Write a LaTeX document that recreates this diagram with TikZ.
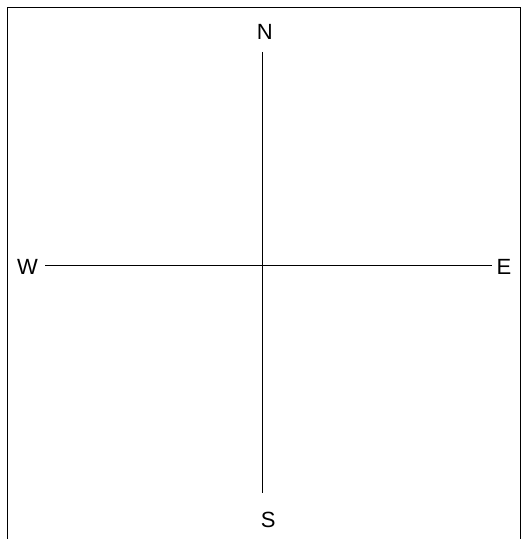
\documentclass[tikz,border=0pt]{standalone}
\usepackage{fontspec}
\setmainfont{Liberation Sans}
\usetikzlibrary{positioning}

\begin{document}
\begin{tikzpicture}[
			x=1pt, y=-1pt,
			dirlabel/.style={inner sep=0pt, anchor=base, font=\fontsize{22}{26}\selectfont},
			axisline/.style={line width=0.8pt, draw=black}
		]
		\useasboundingbox (0,0) rectangle (522,539);
		\clip (0,0) rectangle (522,539);
		% frame, open at the bottom
		\draw[line width=1.6pt, draw=black] (7.5,560) |- (520.5,7.5) -- (520.5,560);
		
		\coordinate (origin) at (262.3,265.3);
		\node[dirlabel] (north) at (264.7,39.3) {N};
		\node[dirlabel] (south) at (268.3,527.3) {S};
		\node[dirlabel] (west) at (27.5,274.8) {W};
		\node[dirlabel] (east) at (504,274.6) {E};
		
		\draw[axisline, shorten <=12.4pt, shorten >=19pt] (north.south -| origin) -- (south.north -| origin);
		\draw[axisline, shorten <=7pt, shorten >=4pt] (west.east |- origin) -- (east.west |- origin);
		\end{tikzpicture}
\end{document}
